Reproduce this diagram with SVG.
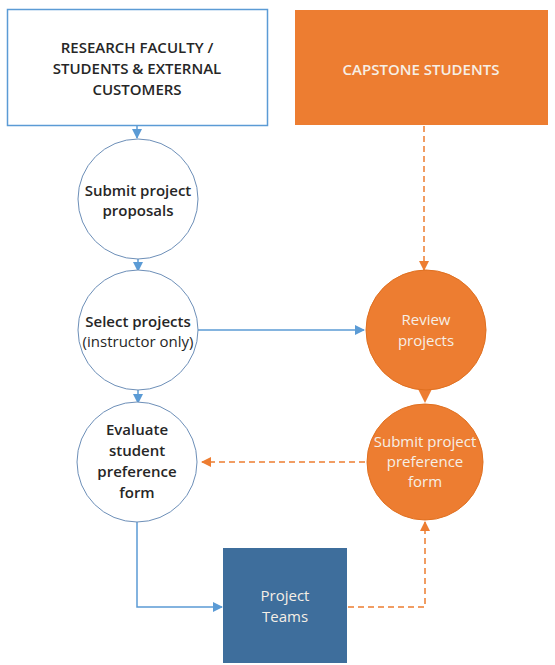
<svg xmlns="http://www.w3.org/2000/svg" width="555" height="665" viewBox="0 0 555 665">
<style>
.t{font-family:"Open Sans","Liberation Sans",Arial,sans-serif;font-weight:600;font-size:15px;fill:#262626;text-anchor:middle}
.w{fill:#f6efe6;font-weight:normal}
.cap{font-weight:600}
.n{font-weight:normal}
.c{fill:#fff;stroke:#6d8fb8;stroke-width:1}
.o{fill:#ed7d31;stroke:#e07020;stroke-width:1}
.bl{stroke:#5b9bd5;stroke-width:1.5;fill:none}
.od{stroke:#ed7d31;stroke-width:1.5;fill:none;stroke-dasharray:6 4}
</style>
<defs>
<marker id="ab" markerWidth="10" markerHeight="10" refX="9" refY="5" orient="auto" markerUnits="userSpaceOnUse"><path d="M0,0 L10,5 L0,10 z" fill="#5b9bd5"/></marker>
<marker id="ao" markerWidth="10" markerHeight="10" refX="9" refY="5" orient="auto" markerUnits="userSpaceOnUse"><path d="M0,0 L10,5 L0,10 z" fill="#ed7d31"/></marker>
</defs>
<g id="connectors">
<path class="bl" d="M137,126 L137,138" marker-end="url(#ab)"/>
<path class="bl" d="M138,259 L138,271" marker-end="url(#ab)"/>
<path class="bl" d="M138,390 L138,403" marker-end="url(#ab)"/>
<path class="bl" d="M198,330 L364,330" marker-end="url(#ab)"/>
<path class="bl" d="M137,522 L137,607 L222,607" marker-end="url(#ab)"/>
<path class="od" d="M424,126 L424,270" marker-end="url(#ao)"/>
<path d="M418,389 L432,389 L425,403 z" fill="#ed7d31"/>
<path class="od" d="M365,462 L202,462" marker-end="url(#ao)"/>
<path class="od" d="M348,607 L425,607 L425,522" marker-end="url(#ao)"/>
</g>
<g id="research">
<rect x="7.5" y="9.5" width="260" height="116" fill="#fff" stroke="#5b9bd5" stroke-width="1.5"/>
<text class="t" x="137" y="53" font-size="13.5">RESEARCH FACULTY /</text>
<text class="t" x="137" y="74" font-size="13.5">STUDENTS &amp; EXTERNAL</text>
<text class="t" x="137" y="95" font-size="13.5">CUSTOMERS</text>
</g>
<g id="capstone">
<rect x="295" y="10" width="253" height="115" fill="#ed7d31"/>
<text class="t w cap" x="421" y="75" font-size="13.5">CAPSTONE STUDENTS</text>
</g>
<g id="submit-proposals">
<circle class="c" cx="138" cy="199" r="60"/>
<text class="t" x="138" y="196">Submit project</text>
<text class="t" x="138" y="216">proposals</text>
</g>
<g id="select">
<circle class="c" cx="138" cy="330" r="60"/>
<text class="t" x="138" y="327">Select projects</text>
<text class="t n" x="138" y="347" font-size="10.5">(instructor only)</text>
</g>
<g id="evaluate">
<circle class="c" cx="137" cy="462" r="60"/>
<text class="t" x="137" y="435">Evaluate</text>
<text class="t" x="137" y="456">student</text>
<text class="t" x="137" y="477">preference</text>
<text class="t" x="137" y="498">form</text>
</g>
<g id="review">
<circle class="o" cx="426" cy="330" r="60"/>
<text class="t w" x="426" y="325">Review</text>
<text class="t w" x="426" y="346">projects</text>
</g>
<g id="submit-pref">
<circle class="o" cx="425" cy="462" r="58"/>
<text class="t w" x="425" y="447">Submit project</text>
<text class="t w" x="425" y="467">preference</text>
<text class="t w" x="425" y="487">form</text>
</g>
<g id="teams">
<rect x="223" y="548" width="124" height="115" fill="#3e6e9c"/>
<text class="t w" x="285" y="601">Project</text>
<text class="t w" x="285" y="622">Teams</text>
</g>
</svg>
